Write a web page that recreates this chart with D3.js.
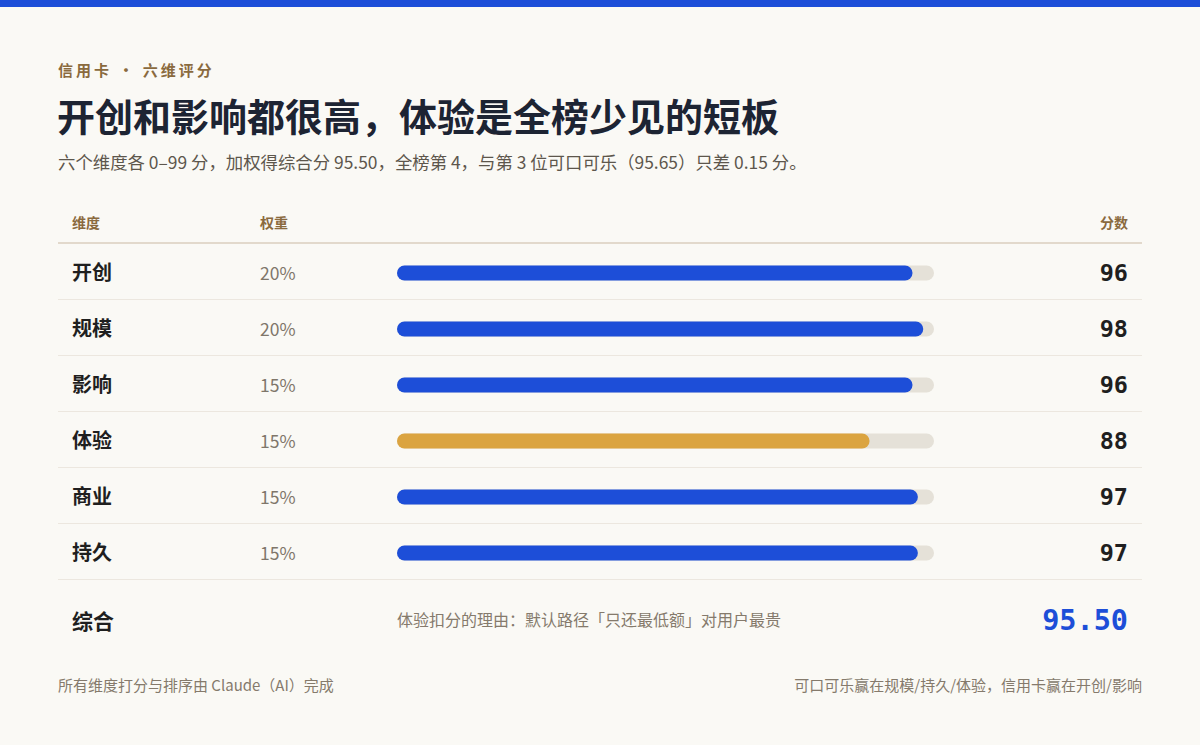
<!DOCTYPE html>
<html><head><meta charset="utf-8">
<script src="https://cdn.jsdelivr.net/npm/d3@7"></script>
<style>
html,body{margin:0;padding:0;background:#faf9f5;}
svg{display:block;}
</style></head>
<body>
<svg id="chart" width="1200" height="745"></svg>
<script>
const dimensions = ["开创","规模","影响","体验","商业","持久"];
const weights = ["20%","20%","15%","15%","15%","15%"];
const scores = [96,98,96,88,97,97];
const highlight = ["体验"];
const composite = "95.50";
const compositeLabel = "综合";
const compositeNote = "体验扣分的理由：默认路径「只还最低额」对用户最贵";
const headers = ["维度","权重","分数"];
const eyebrow = "信用卡 • 六维评分";
const title = "开创和影响都很高，体验是全榜少见的短板";
const subtitle = "六个维度各 0–99 分，加权得综合分 95.50，全榜第 4，与第 3 位可口可乐（95.65）只差 0.15 分。";
const footLeft = "所有维度打分与排序由 Claude（AI）完成";
const footRight = "可口可乐赢在规模/持久/体验，信用卡赢在开创/影响";

const CJK = "'Noto Sans CJK SC','Noto Sans',sans-serif";
const MONO = "'DejaVu Sans Mono',monospace";
const svg = d3.select("#chart");
svg.append("rect").attr("width",1200).attr("height",745).attr("fill","#faf9f5");
svg.append("rect").attr("width",1200).attr("height",7).attr("fill","#1d4ed8");

svg.append("text").attr("x",58).attr("y",76).text(eyebrow)
  .attr("font-family",CJK).attr("font-size",15).attr("font-weight",700)
  .attr("letter-spacing",3).attr("fill","#8a6a3e");
svg.append("text").attr("x",57).attr("y",131).text(title)
  .attr("font-family",CJK).attr("font-size",38).attr("font-weight",700).attr("fill","#1d2433");
svg.append("text").attr("x",58).attr("y",169).text(subtitle)
  .attr("font-family",CJK).attr("font-size",17.4).attr("fill","#5d564c");

const left=58, right=1142;
const headerY = 228, headerLine = 243, rowTop = 244, rowH = 56;
const hdrX = [72,260,1128];
svg.selectAll("text.hdr").data(headers).join("text").attr("class","hdr")
  .attr("x",(d,i)=>hdrX[i]).attr("y",headerY).attr("text-anchor",(d,i)=>i===2?"end":"start").text(d=>d)
  .attr("font-family",CJK).attr("font-size",14).attr("font-weight",700).attr("fill","#8a6a3e");
svg.append("line").attr("x1",left).attr("x2",right).attr("y1",headerLine).attr("y2",headerLine)
  .attr("stroke","#e2d9cc").attr("stroke-width",2);

const y = d3.scaleBand().domain(dimensions).range([rowTop, rowTop+rowH*dimensions.length]);
const x = d3.scaleLinear().domain([0,100]).range([397,934]);
const barH = 15;
const mid = rowH/2 + 1;

const rows = svg.selectAll("g.row").data(dimensions).join("g").attr("class","row")
  .attr("transform",d=>`translate(0,${y(d)})`);
rows.append("line").attr("x1",left).attr("x2",right).attr("y1",rowH-0.5).attr("y2",rowH-0.5)
  .attr("stroke","#ece7df").attr("stroke-width",1);
rows.append("text").attr("x",72).attr("y",mid+7).text(d=>d)
  .attr("font-family",CJK).attr("font-size",20).attr("font-weight",700).attr("fill","#1f1f1f");
rows.append("text").attr("x",260).attr("y",mid+7).text((d,i)=>weights[i])
  .attr("font-family",CJK).attr("font-size",17.5).attr("fill","#7f766a");
rows.append("rect").attr("x",x(0)).attr("y",mid-barH/2).attr("width",x(100)-x(0)).attr("height",barH)
  .attr("rx",barH/2).attr("fill","#e5e1d8");
rows.append("rect").attr("x",x(0)).attr("y",mid-barH/2).attr("width",(d,i)=>x(scores[i])-x(0)).attr("height",barH)
  .attr("rx",barH/2).attr("fill",d=>highlight.includes(d)?"#dba440":"#1d4ed8");
rows.append("text").attr("x",1128).attr("y",mid+8).attr("text-anchor","end").text((d,i)=>scores[i])
  .attr("font-family",MONO).attr("font-size",23.5).attr("font-weight",700).attr("fill","#1f1f1f");

const cy = rowTop + rowH*dimensions.length;
svg.append("text").attr("x",72).attr("y",cy+49).text(compositeLabel)
  .attr("font-family",CJK).attr("font-size",21).attr("font-weight",700).attr("fill","#1f1f1f");
svg.append("text").attr("x",397).attr("y",cy+46).text(compositeNote)
  .attr("font-family",CJK).attr("font-size",16).attr("fill","#857a6c");
svg.append("text").attr("x",1128).attr("y",cy+50).attr("text-anchor","end").text(composite)
  .attr("font-family",MONO).attr("font-size",28.5).attr("font-weight",700).attr("fill","#1d4ed8");

svg.append("text").attr("x",58).attr("y",691).text(footLeft)
  .attr("font-family",CJK).attr("font-size",15).attr("fill","#857a6c");
svg.append("text").attr("x",1142).attr("y",691).attr("text-anchor","end").text(footRight)
  .attr("font-family",CJK).attr("font-size",15).attr("fill","#857a6c");
</script>
</body></html>
